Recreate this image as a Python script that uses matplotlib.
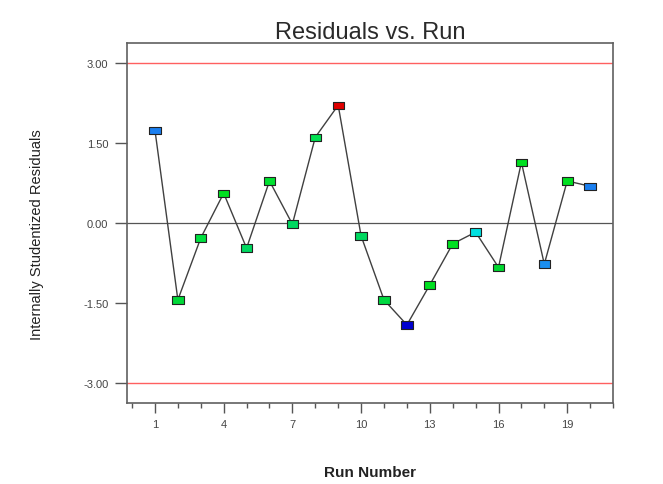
import matplotlib
matplotlib.use("Agg")
import matplotlib.pyplot as plt
from matplotlib.ticker import MultipleLocator, FixedLocator

# Run order and internally studentized residuals
runs = list(range(1, 21))
residuals = [1.74, -1.44, -0.28, 0.56, -0.47, 0.79, -0.02, 1.61, 2.21, -0.24,
             -1.44, -1.91, -1.16, -0.39, -0.17, -0.83, 1.14, -0.77, 0.79, 0.69]
point_colors = ['#1a7ff0', '#00d838', '#00e040', '#00e020', '#00d860', '#00e030',
                '#00d860', '#00e050', '#e00000', '#00d860', '#00d840', '#0000d0',
                '#00e020', '#00e020', '#00e0e0', '#00d830', '#00e020', '#1a8ff0',
                '#00e020', '#1a7ff0']
limit = 3.0
y_ticks = [3.0, 1.5, 0.0, -1.5, -3.0]
x_ticks = [1, 4, 7, 10, 13, 16, 19]

plt.rcParams['font.family'] = ['Liberation Sans', 'DejaVu Sans']

fig = plt.figure(figsize=(6.63, 4.85), dpi=100)
ax = fig.add_axes([0.1916, 0.167, 0.733, 0.742])

ax.axhline(limit, color='#ff6060', lw=1.0, zorder=1)
ax.axhline(-limit, color='#ff6060', lw=1.0, zorder=1)
ax.axhline(0, color='#555555', lw=0.9, zorder=1)

# flat rectangular markers
rect = [(-1, -0.65), (1, -0.65), (1, 0.65), (-1, 0.65), (-1, -0.65)]
ax.plot(runs, residuals, color='#404040', lw=1.0, zorder=2)
ax.scatter(runs, residuals, marker=rect, s=66, c=point_colors,
           edgecolors='#222222', linewidths=0.8, zorder=3)

ax.set_xlim(-0.22, 21.0)
ax.set_ylim(-3.375, 3.375)

ax.xaxis.set_major_locator(FixedLocator(x_ticks))
ax.xaxis.set_minor_locator(MultipleLocator(1))
ax.set_yticks(y_ticks)
ax.set_yticklabels([f'{v:.2f}' for v in y_ticks])
ax.tick_params(axis='both', which='major', labelsize=8, color='#555555',
               labelcolor='#444444', width=1.0)
ax.tick_params(axis='x', which='major', length=7.5, pad=4)
ax.tick_params(axis='y', which='major', length=8.5, pad=5)
ax.tick_params(axis='x', which='minor', length=3.5, width=1.0, color='#555555')

for side in ax.spines.values():
    side.set_color('#606060')
    side.set_linewidth(1.2)

ax.set_title('Residuals vs. Run', fontsize=17, color='#2a2a2a', pad=3)
ax.set_xlabel('Run Number', fontsize=11, fontweight='bold', color='#222222',
              labelpad=26)
ax.set_ylabel('Internally Studentized Residuals', fontsize=10.5, color='#222222')
ax.yaxis.set_label_coords(-0.17, 0.47)

fig.savefig('out.png', dpi=100)
